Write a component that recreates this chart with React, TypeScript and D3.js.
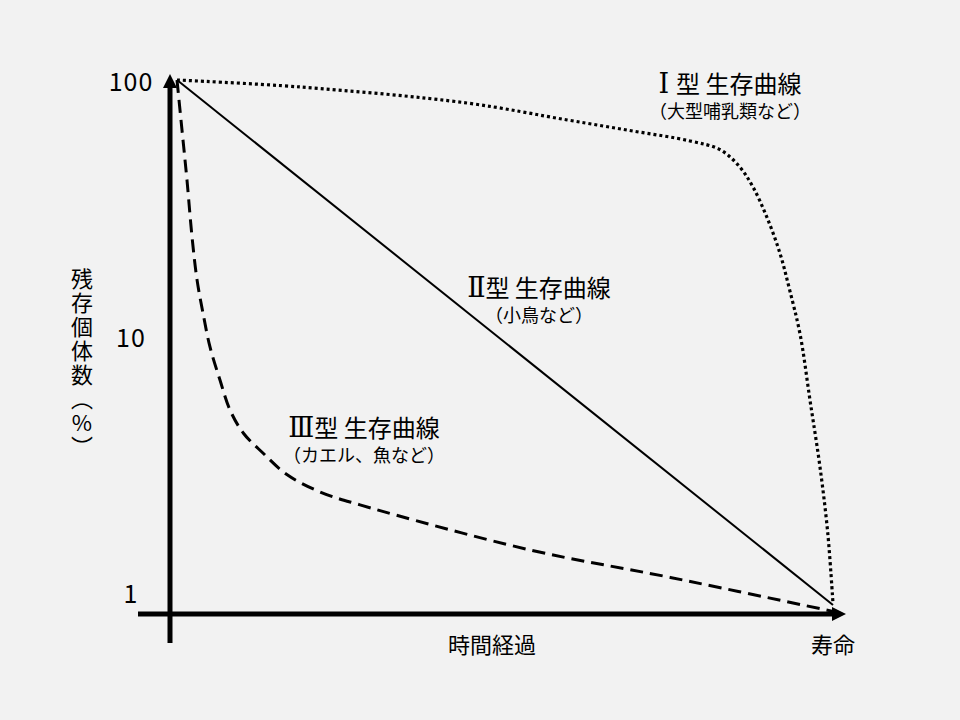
import React from 'react';
import * as d3 from 'd3';

// time as % of lifespan, survivors as % (log scale)
const type1Time = [0, 18.8, 44.2, 59.5, 69.5, 78.2, 82.8, 85.8, 87.8, 89.9, 91.9, 93.4, 95.0, 96.5, 98.0, 99.2, 100];
const type1Survival = [100, 93.9, 81.3, 69.8, 63.2, 57.8, 53.4, 45.7, 38.2, 29.2, 21.1, 15.1, 10.1, 5.6, 3.1, 1.7, 0.9];

const type2Time = [0, 100];
const type2Survival = [100, 0.89];

const type3Time = [0, 0.76, 1.52, 2.29, 3.05, 3.96, 5.03, 6.55, 8.08, 10.1, 13.1, 16.8, 21.8, 27.9, 53.8, 75.2, 100];
const type3Survival = [100, 63.8, 40.7, 24.4, 16.6, 12.3, 9.06, 6.73, 5.14, 4.18, 3.49, 2.87, 2.46, 2.19, 1.46, 1.14, 0.84];

const yTicks = [1, 10, 100];

const W = 960;
const H = 720;
const FONT = '"Noto Sans CJK JP", "Noto Sans", sans-serif';
const SERIF = '"Liberation Serif", "DejaVu Serif", serif';

const x = d3.scaleLinear().domain([0, 100]).range([177, 833]);
const y = d3.scaleLog().domain([1, 100]).range([592, 80]);

const line = d3
  .line<[number, number]>()
  .x(d => x(d[0]))
  .y(d => y(d[1]))
  .curve(d3.curveCatmullRom.alpha(0.5));

const zip = (t: number[], s: number[]) => t.map((v, i) => [v, s[i]] as [number, number]);

const Label = ({ cx, py, numeral, sub }: { cx: number; py: number; numeral: string; sub: string }) => (
  <g>
    <text x={cx} y={py} textAnchor="middle" fontSize={24} fontFamily={FONT} fill="#000">
      <tspan fontFamily={SERIF} fontSize={27}>{numeral}</tspan>
      <tspan>型 生存曲線</tspan>
    </text>
    <text x={cx} y={py + 25} textAnchor="middle" fontSize={18} fontFamily={FONT} fill="#000">
      {sub}
    </text>
  </g>
);

export default function App() {
  const axisX = 170;
  const axisY = 614;
  return (
    <svg width={W} height={H} style={{ position: 'absolute', left: 0, top: 0, background: '#f2f2f2' }}>
      <rect width={W} height={H} fill="#f2f2f2" />

      {/* axes */}
      <line x1={axisX} x2={axisX} y1={643} y2={86} stroke="#000" strokeWidth={5} />
      <path d={`M${axisX - 7},${88} L${axisX},${74} L${axisX + 7},${88} Z`} fill="#000" />
      <line x1={138} x2={834} y1={axisY} y2={axisY} stroke="#000" strokeWidth={5} />
      <path d={`M${832},${axisY - 7} L${846},${axisY} L${832},${axisY + 7} Z`} fill="#000" />

      {/* tick labels */}
      {yTicks.map(t => (
        <text key={t} x={131} y={y(t)} textAnchor="middle" dominantBaseline="central" fontSize={25} fontFamily={FONT} letterSpacing={1} fill="#000">
          {t}
        </text>
      ))}

      {/* curves */}
      <path d={line(zip(type1Time, type1Survival)) || ''} fill="none" stroke="#000" strokeWidth={3.2} strokeDasharray="3,3" />
      <path d={line(zip(type2Time, type2Survival)) || ''} fill="none" stroke="#000" strokeWidth={2} />
      <path d={line(zip(type3Time, type3Survival)) || ''} fill="none" stroke="#000" strokeWidth={3} strokeDasharray="13,7" />

      {/* curve labels */}
      <Label cx={730} py={93} numeral="Ⅰ " sub="（大型哺乳類など）" />
      <Label cx={539} py={297} numeral="Ⅱ" sub="（小鳥など）" />
      <Label cx={364} py={437} numeral="Ⅲ" sub="（カエル、魚など）" />

      {/* axis titles */}
      <text x={492} y={643} textAnchor="middle" dominantBaseline="central" fontSize={22} fontFamily={FONT} fill="#000">
        時間経過
      </text>
      <text x={833} y={643} textAnchor="middle" dominantBaseline="central" fontSize={22} fontFamily={FONT} fill="#000">
        寿命
      </text>
      <text
        x={82}
        y={268}
        fontSize={22}
        fontFamily={FONT}
        fill="#000"
        style={{ writingMode: 'vertical-rl', textOrientation: 'upright', letterSpacing: '2px' } as React.CSSProperties}
      >
        残存個体数（%）
      </text>
    </svg>
  );
}
